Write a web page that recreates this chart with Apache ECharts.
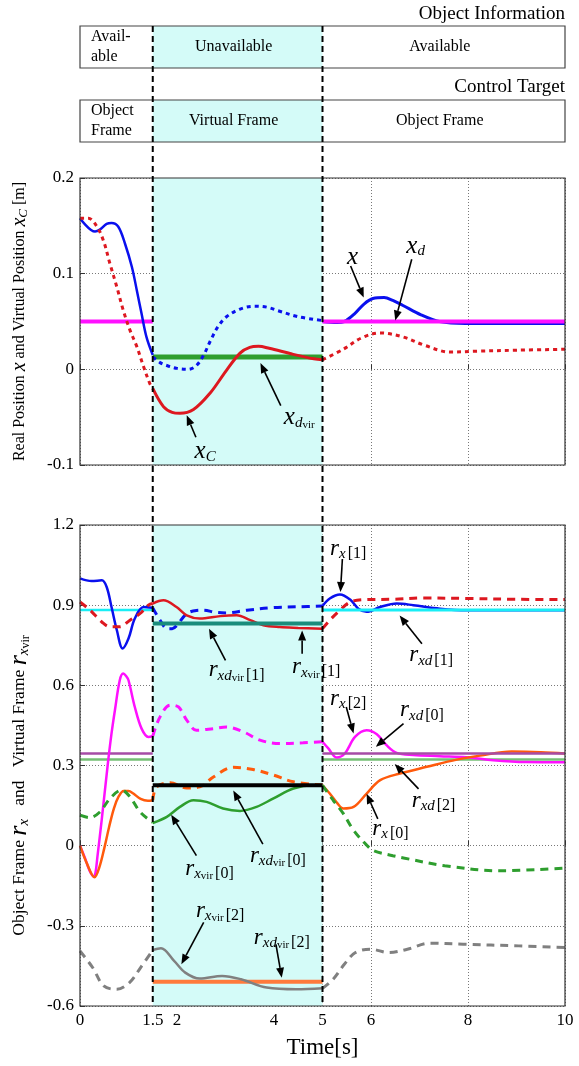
<!DOCTYPE html>
<html><head><meta charset="utf-8">
<script src="https://cdn.jsdelivr.net/npm/echarts@6/dist/echarts.min.js"></script>
<style>html,body{margin:0;padding:0;background:#fff}#c{width:579px;height:1066px}</style>
</head><body><div id="c"></div>
<script>
const SERIF = '"Liberation Serif","DejaVu Serif",serif';

// ---------- Top plot data: [time, value] ----------
const xReal_A = [[0,0.158],[0.31,0.144],[0.41,0.146],[0.55,0.152],[0.65,0.153],[0.79,0.149],[0.93,0.131],[1.07,0.107],[1.17,0.083],[1.27,0.058],[1.37,0.034],[1.5,0.015]];
const xReal_B = [[1.5,0.013],[1.65,0.007],[1.79,0.004],[2.0,0.001],[2.23,0.0],[2.4,0.004],[2.55,0.015],[2.7,0.031],[2.85,0.045],[3.02,0.055],[3.3,0.063],[3.6,0.066],[3.85,0.065],[4.1,0.061],[4.5,0.055],[5,0.051]];
const xReal_C = [[5,0.050],[5.3,0.049],[5.45,0.050],[5.66,0.058],[5.85,0.068],[6.04,0.074],[6.27,0.075],[6.45,0.072],[6.65,0.067],[7.03,0.057],[7.41,0.050],[7.95,0.048],[9,0.048],[10,0.048]];
const xC_A = [[0,0.158],[0.17,0.158],[0.34,0.150],[0.48,0.135],[0.62,0.110],[0.76,0.086],[0.89,0.062],[1.03,0.041],[1.17,0.024],[1.31,0.003],[1.44,-0.015],[1.5,-0.02]];
const xC_B = [[1.5,-0.02],[1.72,-0.039],[1.9,-0.045],[2.06,-0.046],[2.34,-0.042],[2.68,-0.025],[3.02,-0.001],[3.3,0.017],[3.5,0.023],[3.68,0.024],[3.9,0.022],[4.37,0.016],[4.82,0.011],[5,0.010]];
const xC_C = [[5,0.010],[5.43,0.021],[5.81,0.033],[6.19,0.038],[6.65,0.034],[7.11,0.025],[7.64,0.018],[8.17,0.019],[9.01,0.020],[10,0.021]];
const xd_A = [[0,0.05],[1.5,0.05]];
const xd_C = [[5,0.05],[10,0.05]];
const xdvir = [[1.5,0.013],[5,0.013]];

// ---------- Bottom plot data ----------
const rx1_A = [[0,1.0],[0.24,0.99],[0.45,0.993],[0.55,0.968],[0.65,0.893],[0.76,0.806],[0.88,0.738],[1.0,0.775],[1.13,0.85],[1.31,0.893],[1.5,0.89]];
const rx1_B = [[1.5,0.89],[1.65,0.844],[1.8,0.812],[1.9,0.812],[2.0,0.825],[2.2,0.868],[2.4,0.88],[2.54,0.881],[2.8,0.873],[3.02,0.871],[3.44,0.881],[3.99,0.891],[4.5,0.894],[5,0.897]];
const rx1_C = [[5,0.897],[5.15,0.925],[5.36,0.94],[5.57,0.921],[5.74,0.887],[5.91,0.875],[6.19,0.893],[6.53,0.906],[6.87,0.9],[7.42,0.887],[7.97,0.881],[10,0.881]];
const rv1_A = [[0,0.912],[0.21,0.881],[0.45,0.837],[0.62,0.819],[0.82,0.819],[1.03,0.844],[1.24,0.869],[1.41,0.9],[1.5,0.906]];
const rv1_B = [[1.5,0.906],[1.72,0.918],[1.99,0.893],[2.2,0.862],[2.47,0.85],[2.89,0.859],[3.23,0.862],[3.51,0.844],[3.78,0.825],[4.12,0.818],[4.5,0.815],[5,0.812]];
const rv1_C = [[5,0.812],[5.15,0.844],[5.36,0.881],[5.57,0.912],[5.91,0.921],[6.46,0.922],[7.08,0.927],[7.97,0.925],[9,0.922],[10,0.921]];
const rx2_A = [[0,0],[0.1,-0.045],[0.2,-0.095],[0.28,-0.115],[0.32,-0.1],[0.36,-0.04],[0.45,0.1],[0.57,0.3],[0.65,0.42],[0.72,0.507],[0.82,0.619],[0.89,0.644],[0.95,0.635],[1.0,0.619],[1.13,0.519],[1.27,0.438],[1.41,0.407],[1.5,0.41]];
const rx2_B = [[1.5,0.41],[1.65,0.482],[1.86,0.526],[2.03,0.519],[2.2,0.47],[2.4,0.432],[2.75,0.438],[3.02,0.444],[3.37,0.426],[3.71,0.395],[4.12,0.382],[4.6,0.385],[5,0.389]];
const rx2_C = [[5,0.389],[5.12,0.364],[5.29,0.33],[5.46,0.345],[5.67,0.407],[5.91,0.432],[6.12,0.417],[6.32,0.376],[6.53,0.347],[6.87,0.339],[7.42,0.335],[7.97,0.331],[8.52,0.32],[9.2,0.313],[10,0.312]];
const rx0_A = [[0,0],[0.15,-0.07],[0.3,-0.118],[0.4,-0.08],[0.5,-0.01],[0.6,0.07],[0.7,0.14],[0.8,0.185],[0.9,0.205],[1.0,0.205],[1.1,0.195],[1.25,0.175],[1.4,0.168],[1.5,0.17]];
const rx0_B = [[1.5,0.17],[1.58,0.22],[1.86,0.235],[2.2,0.216],[2.47,0.22],[2.75,0.257],[3.16,0.293],[3.57,0.285],[3.99,0.264],[4.4,0.239],[5,0.227]];
const rx0_C = [[5,0.226],[5.15,0.195],[5.3,0.16],[5.43,0.139],[5.64,0.145],[5.91,0.195],[6.19,0.245],[6.6,0.27],[7.15,0.295],[7.77,0.322],[8.25,0.337],[8.9,0.352],[9.5,0.35],[10,0.345]];
const rv0_A = [[0,0.114],[0.2,0.105],[0.41,0.126],[0.62,0.177],[0.86,0.208],[1.03,0.183],[1.24,0.126],[1.48,0.089],[1.5,0.087]];
const rv0_B = [[1.5,0.085],[1.79,0.108],[2.06,0.145],[2.34,0.17],[2.61,0.164],[2.95,0.139],[3.3,0.13],[3.64,0.145],[3.99,0.177],[4.4,0.214],[4.81,0.226],[5,0.226]];
const rv0_C = [[5,0.226],[5.22,0.17],[5.43,0.12],[5.64,0.058],[5.91,0.002],[6.06,-0.019],[6.45,-0.0375],[6.67,-0.046],[7.52,-0.075],[8.66,-0.094],[10,-0.084]];
const rv2_A = [[0,-0.394],[0.26,-0.456],[0.49,-0.525],[0.76,-0.5375],[1.02,-0.5125],[1.25,-0.456],[1.5,-0.391]];
const rv2_B = [[1.5,-0.391],[1.67,-0.384],[1.94,-0.431],[2.17,-0.475],[2.47,-0.4975],[2.93,-0.4875],[3.32,-0.5],[3.85,-0.531],[4.46,-0.5375],[5,-0.534]];
const rv2_C = [[5,-0.534],[5.22,-0.5],[5.45,-0.444],[5.68,-0.4],[5.99,-0.3875],[6.37,-0.4],[6.75,-0.3875],[7.21,-0.365],[7.9,-0.369],[9.05,-0.375],[10,-0.381]];
const rxd1_A = [[0,0.882],[1.5,0.882]], rxd1_C = [[5,0.882],[10,0.882]];
const rxd0_A = [[0,0.345],[1.5,0.345]], rxd0_C = [[5,0.345],[10,0.345]];
const rxd2_A = [[0,0.322],[1.5,0.322]], rxd2_C = [[5,0.322],[10,0.322]];
const rxdvir1 = [[1.5,0.831],[5,0.831]];
const rxdvir0 = [[1.5,0.226],[5,0.226]];
const rxdvir2 = [[1.5,-0.509],[5,-0.509]];

// phases
const phaseT = [1.5, 5];
const xTickLabels = [0, 1.5, 2, 4, 5, 6, 8, 10];

// annotations: [richText, labelPos, arrowFrom, arrowTo]
const annTop = [
  ['{M|x}', [5.62,0.117], [5.58,0.108], [5.85,0.075]],
  ['{M|x}{s|d}', [6.92,0.129], [6.84,0.115], [6.5,0.051]],
  ['{M|x}{s|C}', [2.58,-0.086], [2.39,-0.071], [2.2,-0.048]],
  ['{M|x}{s|d}{v|vir}', [4.52,-0.05], [4.14,-0.038], [3.72,0.0065]]
];
const annBot = [
  ['{m|r}{s|x}{b|[1]}', [5.53,1.11], [5.41,1.073], [5.37,0.949]],
  ['{m|r}{s|xd}{b|[1]}', [7.24,0.712], [7.05,0.756], [6.59,0.861]],
  ['{m|r}{s|xd}{v|vir}{b|[1]}', [3.23,0.656], [3.0,0.693], [2.66,0.812]],
  ['{m|r}{s|x}{v|vir}{b|[1]}', [4.87,0.668], [4.58,0.718], [4.58,0.805]],
  ['{m|r}{s|x}{b|[2]}', [5.53,0.55], [5.49,0.519], [5.64,0.42]],
  ['{m|r}{s|xd}{b|[0]}', [7.05,0.506], [6.67,0.457], [6.1,0.37]],
  ['{m|r}{s|xd}{b|[2]}', [7.29,0.169], [6.98,0.2125], [6.49,0.306]],
  ['{m|r}{s|x}{b|[0]}', [6.4,0.0625], [6.14,0.1], [5.91,0.194]],
  ['{m|r}{s|xd}{v|vir}{b|[0]}', [4.08,-0.0375], [3.77,0.006], [3.16,0.206]],
  ['{m|r}{s|x}{v|vir}{b|[0]}', [2.67,-0.0875], [2.4,-0.0375], [1.88,0.116]],
  ['{m|r}{s|x}{v|vir}{b|[2]}', [2.89,-0.244], [2.55,-0.2875], [2.09,-0.444]],
  ['{m|r}{s|xd}{v|vir}{b|[2]}', [4.16,-0.344], [4.04,-0.369], [4.16,-0.494]]
];

const RICH = {
  M:{fontFamily:SERIF,fontStyle:'italic',fontSize:25,lineHeight:26,verticalAlign:'middle',color:'#000'},
  m:{fontFamily:SERIF,fontStyle:'italic',fontSize:23,lineHeight:26,verticalAlign:'middle',color:'#000'},
  s:{fontFamily:SERIF,fontStyle:'italic',fontSize:15,lineHeight:15,verticalAlign:'bottom',color:'#000'},
  v:{fontFamily:SERIF,fontSize:11,lineHeight:9,verticalAlign:'bottom',color:'#000'},
  b:{fontFamily:SERIF,fontSize:16,lineHeight:22,verticalAlign:'bottom',color:'#000',padding:[0,0,0,2]}
};

const C = {blue:'#0a10ee', red:'#dd1820', mag:'#ff10ff', green:'#2e9e2e', cyan:'#19eef5', orange:'#ff5a0c',
  gray:'#808080', purple:'#a64ca6', lgreen:'#74bf74', teal:'#1a8c7c', black:'#000', orange2:'#ff7a3c', shade:'#d4fbf8'};
const DOT = [4,4], DASH = [8,6];

function ln(g, data, color, width, dash, smooth, z) {
  return {type:'line', xAxisIndex:g, yAxisIndex:g, data, symbol:'none', showSymbol:false,
    smooth: smooth === false ? false : 0.35, silent:true, z: z || 3,
    lineStyle:{color, width, type: dash || 'solid', cap:'butt'}};
}

const series = [
  {type:'line', xAxisIndex:0, yAxisIndex:0, data:[], silent:true,
   markArea:{silent:true, itemStyle:{color:C.shade}, data:[[{xAxis:phaseT[0]},{xAxis:phaseT[1]}]]}},
  {type:'line', xAxisIndex:1, yAxisIndex:1, data:[], silent:true,
   markArea:{silent:true, itemStyle:{color:C.shade}, data:[[{xAxis:phaseT[0]},{xAxis:phaseT[1]}]]}},
  // top
  ln(0, xd_A, C.mag, 4, null, false), ln(0, xd_C, C.mag, 4, null, false, 3),
  ln(0, xdvir, C.green, 5, null, false),
  ln(0, xReal_A, C.blue, 2.5), ln(0, xReal_B, C.blue, 3, DOT), ln(0, xReal_C, C.blue, 3, null, null, 2),
  ln(0, xC_A, C.red, 3, DOT), ln(0, xC_B, C.red, 3), ln(0, xC_C, C.red, 3, DOT),
  // bottom constants
  ln(1, rxd0_A, C.purple, 2.5, null, false), ln(1, rxd0_C, C.purple, 2.5, null, false, 4),
  ln(1, rxd2_A, C.lgreen, 2.5, null, false), ln(1, rxd2_C, C.lgreen, 2.5, null, false),
  ln(1, rxd1_A, C.cyan, 2.5, null, false), ln(1, rxd1_C, C.cyan, 3, null, false, 4),
  ln(1, rxdvir1, C.teal, 4, null, false, 4),
  ln(1, rxdvir0, C.black, 4, null, false, 4),
  ln(1, rxdvir2, C.orange2, 4, null, false),
  // bottom curves
  ln(1, rx1_A, C.blue, 2.5), ln(1, rx1_B, C.blue, 3, DASH), ln(1, rx1_C, C.blue, 2.5),
  ln(1, rv1_A, C.red, 3, DASH), ln(1, rv1_B, C.red, 2.5), ln(1, rv1_C, C.red, 3, DASH),
  ln(1, rx2_A, C.mag, 2.5), ln(1, rx2_B, C.mag, 3, DASH), ln(1, rx2_C, C.mag, 2.5),
  ln(1, rx0_A, C.orange, 2.5), ln(1, rx0_B, C.orange, 3, DASH), ln(1, rx0_C, C.orange, 2.5),
  ln(1, rv0_A, C.green, 3, DASH), ln(1, rv0_B, C.green, 2.5), ln(1, rv0_C, C.green, 3, DASH),
  ln(1, rv2_A, C.gray, 3, DASH), ln(1, rv2_B, C.gray, 2.5), ln(1, rv2_C, C.gray, 3, DASH)
];

const splitStyle = {show:true, lineStyle:{color:'#555', width:0.8, type:[1,2]}};
const tickStyle = {show:true, inside:true, length:5, lineStyle:{color:'#333'}};
const labelStyle = {fontFamily:SERIF, fontSize:17, color:'#000'};

const chart = echarts.init(document.getElementById('c'), null, {renderer:'canvas'});
chart.setOption({
  animation:false,
  backgroundColor:'#fff',
  grid:[{left:80, right:14, top:178, height:287, outerBoundsMode:'none', containLabel:false},
        {left:80, right:14, top:525, height:481, outerBoundsMode:'none', containLabel:false}],
  xAxis:[
    {type:'value', gridIndex:0, min:0, max:10, interval:2, axisLine:{show:false}, axisTick:tickStyle,
     axisLabel:{show:false}, splitLine:splitStyle},
    {type:'value', gridIndex:1, min:0, max:10, interval:2, axisLine:{show:false},
     axisTick:Object.assign({}, tickStyle, {customValues:xTickLabels}),
     axisLabel:Object.assign({}, labelStyle, {customValues:xTickLabels, margin:6, formatter:v=>String(v)}),
     splitLine:splitStyle,
     name:'Time[s]', nameLocation:'middle', nameGap:30,
     nameTextStyle:{fontFamily:SERIF, fontSize:23, color:'#000'}}
  ],
  yAxis:[
    {type:'value', gridIndex:0, min:-0.1, max:0.2, interval:0.1, axisLine:{show:false}, axisTick:tickStyle,
     axisLabel:Object.assign({}, labelStyle, {margin:6}), splitLine:splitStyle,
     name:'{n|Real Position }{m|x}{n| and Virtual Position }{m|x}{s|C}{n| [m]}',
     nameLocation:'middle', nameGap:50, nameRotate:90,
     nameTextStyle:{fontFamily:SERIF, fontSize:16, color:'#000', rich:{
       n:{fontFamily:SERIF, fontSize:16, lineHeight:20, verticalAlign:'middle'},
       m:{fontFamily:SERIF, fontStyle:'italic', fontSize:20, lineHeight:20, verticalAlign:'middle'},
       s:{fontFamily:SERIF, fontStyle:'italic', fontSize:13, lineHeight:12, verticalAlign:'bottom'}}}},
    {type:'value', gridIndex:1, min:-0.6, max:1.2, interval:0.3, axisLine:{show:false}, axisTick:tickStyle,
     axisLabel:Object.assign({}, labelStyle, {margin:6}), splitLine:splitStyle,
     name:'{n|Object Frame }{m|r}{s|x}{n|   and   Virtual Frame }{m|r}{s|x}{v|vir}',
     nameLocation:'middle', nameGap:48, nameRotate:90,
     nameTextStyle:{fontFamily:SERIF, fontSize:17, color:'#000', padding:[0,40,0,0], rich:{
       n:{fontFamily:SERIF, fontSize:17.5, lineHeight:26, verticalAlign:'middle'},
       m:{fontFamily:SERIF, fontStyle:'italic', fontSize:26, lineHeight:26, verticalAlign:'middle'},
       s:{fontFamily:SERIF, fontStyle:'italic', fontSize:15, lineHeight:14, verticalAlign:'bottom'},
       v:{fontFamily:SERIF, fontSize:12, lineHeight:8, verticalAlign:'bottom'}}}}
  ],
  series
});

// ---------- overlay graphics ----------
const P = (g, t, v) => chart.convertToPixel({gridIndex:g}, [t, v]);
const gfx = [];
const tL = P(0, 0, 0.2), bR = P(0, 10, -0.1), tL2 = P(1, 0, 1.2), bR2 = P(1, 10, -0.6);
const xa = P(1, phaseT[0], 0)[0], xb = P(1, phaseT[1], 0)[0];
const X0 = tL[0], X1 = bR[0];

[[tL, bR], [tL2, bR2]].forEach(([a, b]) => gfx.push({type:'rect', z:60, silent:true,
  shape:{x:a[0], y:a[1], width:b[0]-a[0], height:b[1]-a[1]},
  style:{fill:null, stroke:'#333', lineWidth:1.2}}));

const boxes = [{y:26, h:42, title:'Object Information', ty:14,
  left:['Avail-','able'], mid:'Unavailable', right:'Available'},
  {y:100, h:42, title:'Control Target', ty:87,
  left:['Object','Frame'], mid:'Virtual Frame', right:'Object Frame'}];
boxes.forEach(b => {
  gfx.push({type:'rect', z:50, silent:true, shape:{x:xa, y:b.y, width:xb-xa, height:b.h}, style:{fill:C.shade}});
  gfx.push({type:'rect', z:60, silent:true, shape:{x:X0, y:b.y, width:X1-X0, height:b.h}, style:{fill:null, stroke:'#444', lineWidth:1.2}});
  gfx.push({type:'text', z:61, silent:true, x:X1, y:b.ty, style:{text:b.title, align:'right', verticalAlign:'middle', font:'19px '+SERIF, fill:'#000'}});
  gfx.push({type:'text', z:61, silent:true, x:X0+11, y:b.y+b.h/2, style:{text:b.left.join('\n'), align:'left', verticalAlign:'middle', font:'16px '+SERIF, lineHeight:20, fill:'#000'}});
  gfx.push({type:'text', z:61, silent:true, x:(xa+xb)/2-4, y:b.y+b.h/2, style:{text:b.mid, align:'center', verticalAlign:'middle', font:'16px '+SERIF, fill:'#000'}});
  gfx.push({type:'text', z:61, silent:true, x:(xb+X1)/2-4, y:b.y+b.h/2, style:{text:b.right, align:'center', verticalAlign:'middle', font:'16px '+SERIF, fill:'#000'}});
});

[xa, xb].forEach(x => gfx.push({type:'line', z:70, silent:true, shape:{x1:x, y1:26, x2:x, y2:bR2[1]},
  style:{stroke:'#000', lineWidth:2, lineDash:[6,4]}}));

function addAnn(g, list) {
  list.forEach(([txt, lp, f, t]) => {
    const p0 = P(g, f[0], f[1]), p1 = P(g, t[0], t[1]);
    const dx = p1[0]-p0[0], dy = p1[1]-p0[1], L = Math.hypot(dx, dy), ux = dx/L, uy = dy/L;
    const hl = 10, hw = 4;
    const bx = p1[0]-ux*hl, by = p1[1]-uy*hl;
    gfx.push({type:'line', z:80, silent:true, shape:{x1:p0[0], y1:p0[1], x2:bx, y2:by}, style:{stroke:'#000', lineWidth:1.6}});
    gfx.push({type:'polygon', z:80, silent:true, shape:{points:[[p1[0],p1[1]],[bx-uy*hw, by+ux*hw],[bx+uy*hw, by-ux*hw]]}, style:{fill:'#000'}});
    const lpx = P(g, lp[0], lp[1]);
    gfx.push({type:'text', z:81, silent:true, x:lpx[0], y:lpx[1], style:{text:txt, rich:RICH, align:'center', verticalAlign:'middle', fill:'#000', font:'16px '+SERIF}});
  });
}
addAnn(0, annTop);
addAnn(1, annBot);

chart.setOption({graphic:{elements:gfx}});
</script>
</body></html>
